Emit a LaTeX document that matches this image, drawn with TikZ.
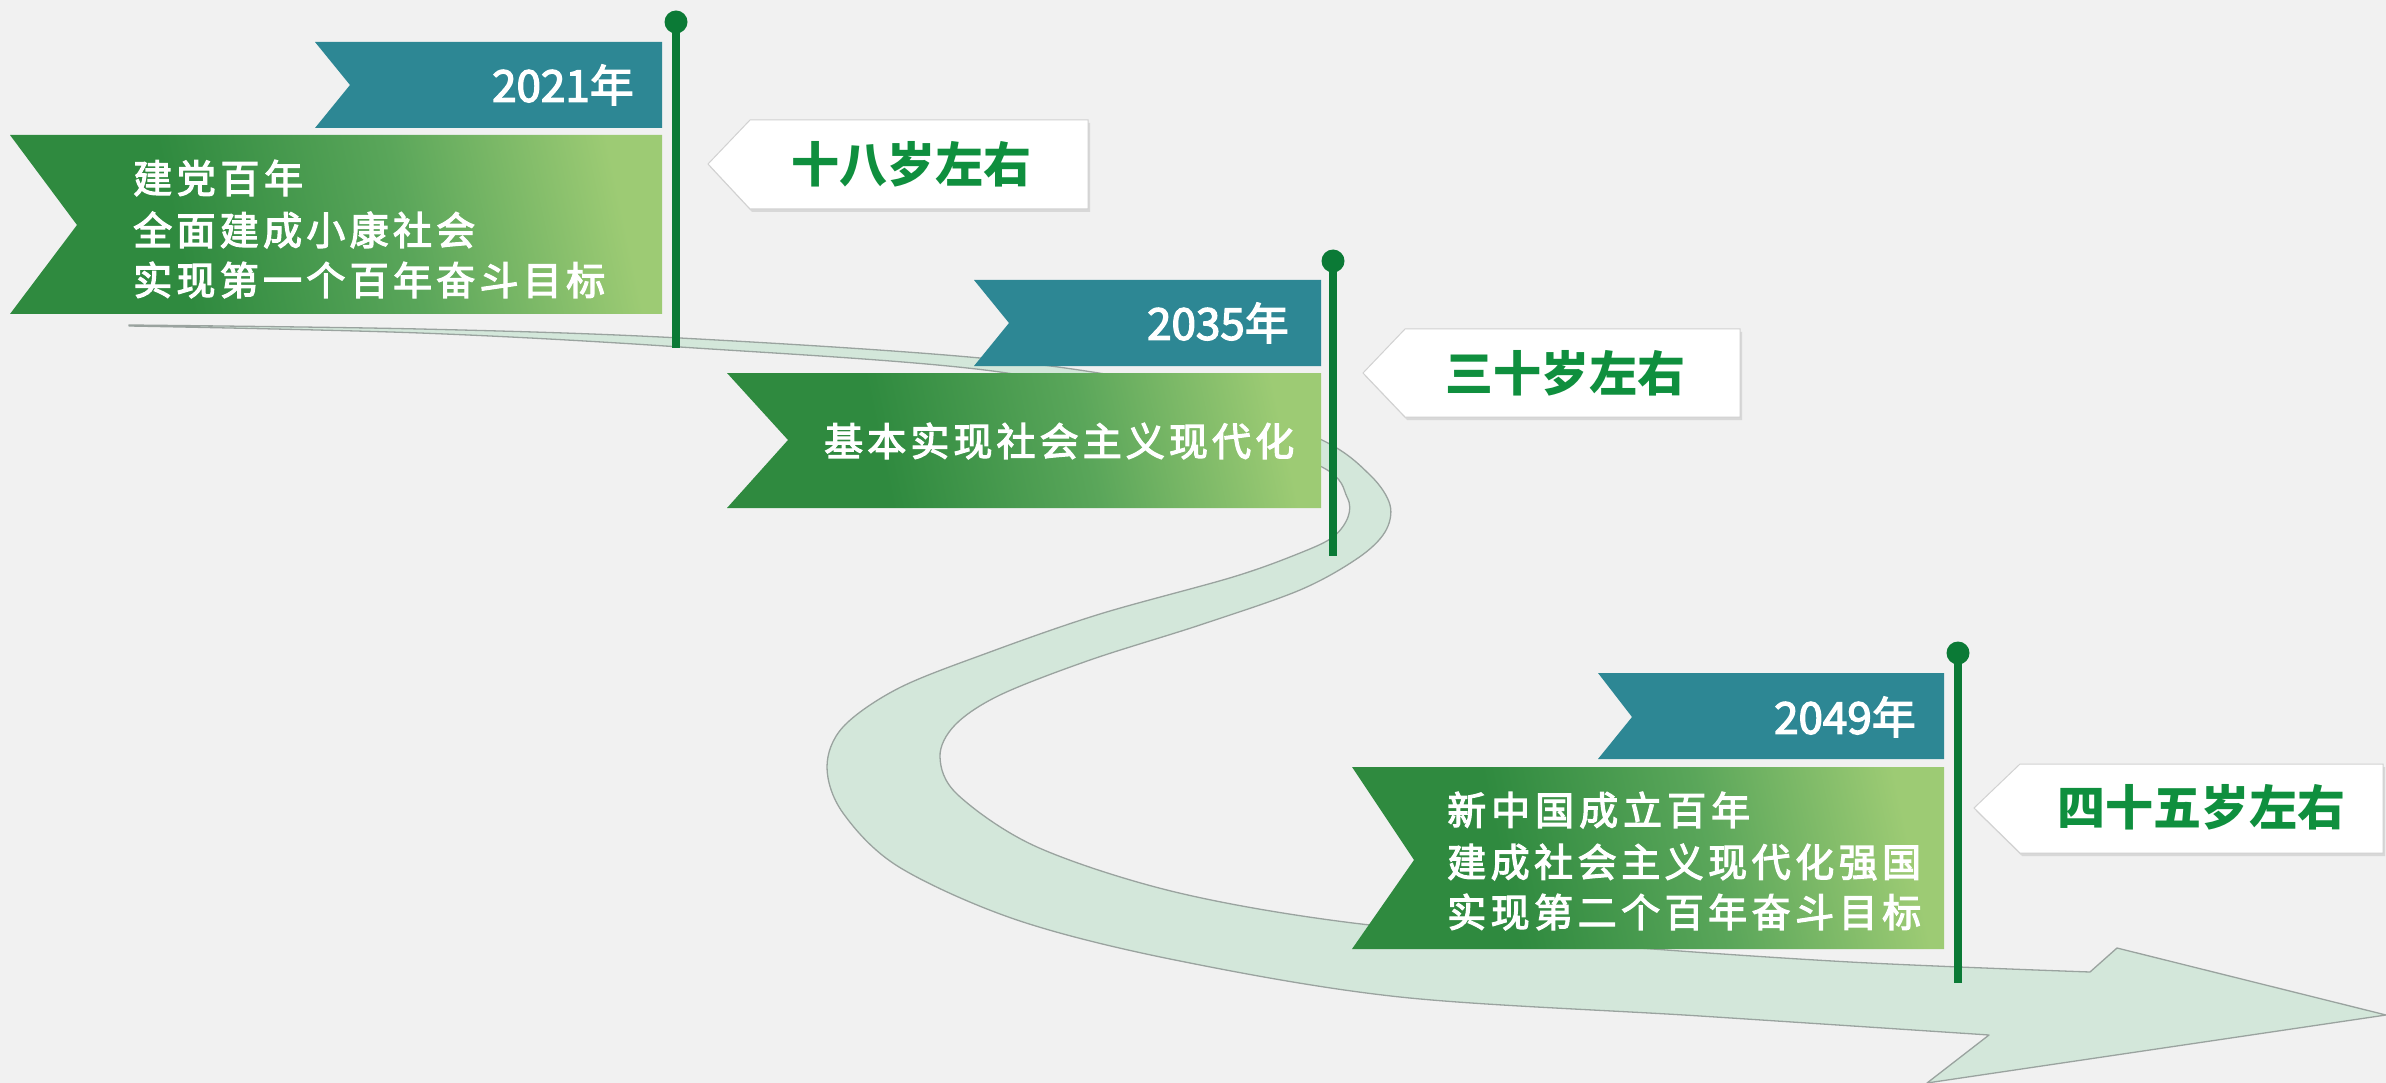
\documentclass[tikz,border=0pt]{standalone}
\usepackage{fontspec}
\newfontfamily\cjk{Noto Sans CJK SC}
\newfontfamily\cjkm{Noto Sans CJK SC}[FakeBold=3]
\usetikzlibrary{shadows}
\definecolor{bg}{HTML}{F1F1F1}
\definecolor{yrteal}{HTML}{2D8794}
\definecolor{gdark}{HTML}{2F8A3F}
\definecolor{gmid}{HTML}{5AA65A}
\definecolor{glight}{HTML}{9DCB74}
\definecolor{polegreen}{HTML}{0B7A36}
\definecolor{agetxt}{HTML}{0F8F3E}
\definecolor{rib}{HTML}{D3E7DA}
\definecolor{ribedge}{HTML}{9AA39F}
\pgfdeclarehorizontalshading{gboxshade}{100bp}{color(0bp)=(gdark); color(25bp)=(gdark); color(36bp)=(gdark); color(56bp)=(gmid); color(75bp)=(glight); color(100bp)=(glight)}
\makeatletter
\newcommand\spreadtext[2]{\def\sp@w{#1}\sp@loop#2\@nil}
\def\sp@loop#1{\ifx#1\@nil\else\makebox[\sp@w][l]{#1}\expandafter\sp@loop\fi}
\makeatother
\begin{document}
\begin{tikzpicture}[x=1pt,y=-1pt,
  yearflag/.style={fill=yrteal},
  goalbox/.style={shading=gboxshade, shading angle=12},
  poleline/.style={draw=polegreen, line width=8pt},
  poledot/.style={circle, fill=polegreen, minimum size=23pt, inner sep=0pt},
  agebox/.style={fill=white, draw=black!18, line width=1pt, drop shadow={opacity=0.22, shadow xshift=2pt, shadow yshift=-3pt}},
  yeartext/.style={anchor=east, inner sep=0pt, text=white, font=\cjkm\fontsize{44}{48}\selectfont},
  goaltext/.style={anchor=west, inner sep=0pt, text=white, font=\cjkm\fontsize{39}{44}\selectfont},
  agetext/.style={inner sep=0pt, text=agetxt, font=\cjk\bfseries\fontsize{48}{52}\selectfont},
  ribbon/.style={fill=rib, draw=ribedge, line width=1.3pt, line join=round}]
\fill[bg] (0,0) rectangle (2386,1083);
\useasboundingbox (0,0) rectangle (2386,1083);
% winding ribbon
\filldraw[ribbon] (129,325)
  -- plot[smooth, tension=0.55] coordinates {(129,325) (420,329) (680,338) (1000,360) (1200,393) (1322,440) (1370,475) (1390,505) (1385,532) (1358,558) (1300,590) (1200,625) (1090,660) (1000,695) (955,725) (940,757) (958,795) (1037,847) (1175,892) (1353,923) (1600,945) (1850,962) (2090,972)}
  -- (2117,948) -- (2386,1015) -- (1927,1083) -- (1989,1035)
  -- plot[smooth, tension=0.55] coordinates {(1989,1035) (1700,1016) (1400,997) (1175,960) (1017,920) (899,867) (843,813) (827,767) (843,727) (899,688) (990,652) (1100,614) (1233,577) (1300,553) (1333,537) (1348,517) (1347,497) (1322,467) (1200,420) (1000,372) (680,347) (420,333) (129,326)}
  -- cycle;
% ---------- 2021 ----------
\fill[yearflag] (315,42) -- (662,42) -- (662,128) -- (315,128) -- (350,85) -- cycle;
\shade[goalbox] (10,135) -- (662,135) -- (662,314) -- (10,314) -- (77,225) -- cycle;
\node[poledot] (dot1) at (676,22) {};
\coordinate (bot1) at (676,348);
\draw[poleline] (dot1.center) -- (bot1);
\node[yeartext] (y1) at (634,85) {2021年};
\node[goaltext] (g1a) at (133,178) {\spreadtext{43.6pt}{建党百年}};
\node[goaltext] (g1b) at (133,230) {\spreadtext{43.3pt}{全面建成小康社会}};
\node[goaltext] (g1c) at (133,280) {\hbox to 472pt{实\hfil 现\hfil 第\hfil 一\hfil 个\hfil 百\hfil 年\hfil 奋\hfil 斗\hfil 目\hfil 标}};
\filldraw[agebox] (708,164) -- (750,120) -- (1088,120) -- (1088,209) -- (750,209) -- cycle;
\node[agetext] (a1) at (911,164) {十八岁左右};
% ---------- 2035 ----------
\fill[yearflag] (974,280) -- (1321,280) -- (1321,366) -- (974,366) -- (1009,323) -- cycle;
\shade[goalbox] (727,373) -- (1321,373) -- (1321,508) -- (727,508) -- (788,440) -- cycle;
\node[poledot] (dot2) at (1333,261) {};
\coordinate (bot2) at (1333,556);
\draw[poleline] (dot2.center) -- (bot2);
\node[yeartext] (y2) at (1289,323) {2035年};
\node[goaltext] (g2) at (824,441) {\spreadtext{43.1pt}{基本实现社会主义现代化}};
\filldraw[agebox] (1363,373) -- (1405,329) -- (1740,329) -- (1740,417) -- (1405,417) -- cycle;
\node[agetext] (a2) at (1565,373) {三十岁左右};
% ---------- 2049 ----------
\fill[yearflag] (1598,673) -- (1944,673) -- (1944,759) -- (1598,759) -- (1632,717) -- cycle;
\shade[goalbox] (1352,767) -- (1944,767) -- (1944,949) -- (1352,949) -- (1414,860) -- cycle;
\node[poledot] (dot3) at (1958,653) {};
\coordinate (bot3) at (1958,983);
\draw[poleline] (dot3.center) -- (bot3);
\node[yeartext] (y3) at (1916,717) {2049年};
\node[goaltext] (g3a) at (1447,810) {\spreadtext{44pt}{新中国成立百年}};
\node[goaltext] (g3b) at (1447,862) {\spreadtext{43.5pt}{建成社会主义现代化强国}};
\node[goaltext] (g3c) at (1447,912) {\hbox to 474pt{实\hfil 现\hfil 第\hfil 二\hfil 个\hfil 百\hfil 年\hfil 奋\hfil 斗\hfil 目\hfil 标}};
\filldraw[agebox] (1974,808) -- (2020,764) -- (2383,764) -- (2383,853) -- (2020,853) -- cycle;
\node[agetext] (a3) at (2201,807) {四十五岁左右};
\end{tikzpicture}
\end{document}
